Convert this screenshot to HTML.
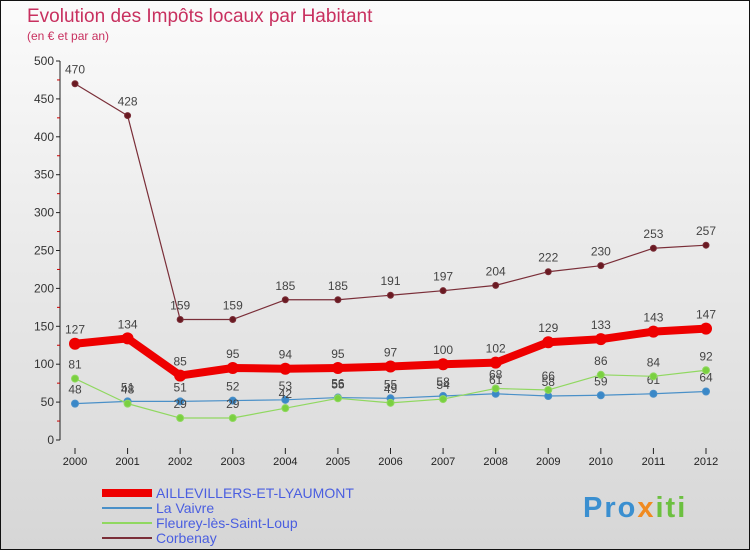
<!DOCTYPE html>
<html><head><meta charset="utf-8"><style>
body{margin:0;}
#wrap{width:750px;height:550px;position:relative;overflow:hidden;font-family:"Liberation Sans","DejaVu Sans",sans-serif;}
</style></head><body>
<div id="wrap">
<svg id="svg" width="750" height="550" xmlns="http://www.w3.org/2000/svg">
<defs><linearGradient id="bg" x1="0" y1="0" x2="0" y2="1"><stop offset="0" stop-color="#fbfbfb"/><stop offset="1" stop-color="#d6d6d6"/></linearGradient></defs>
<rect x="0.5" y="0.5" width="749" height="549" fill="url(#bg)" stroke="#111"/>
<text x="27" y="22" font-size="19" fill="#c8305f">Evolution des Impôts locaux par Habitant</text>
<text x="27" y="40" font-size="12" fill="#c8305f">(en € et par an)</text>
<g id="axes"></g><g id="series"></g>
<g>
<line x1="102" y1="493" x2="152" y2="493" stroke="#ee0000" stroke-width="8"/>
<text x="156" y="498" font-size="14" fill="#4a5ee0">AILLEVILLERS-ET-LYAUMONT</text>
<line x1="102" y1="508" x2="152" y2="508" stroke="#4a90c8" stroke-width="2"/>
<text x="156" y="513" font-size="14" fill="#4a5ee0">La Vaivre</text>
<line x1="102" y1="523" x2="152" y2="523" stroke="#90d860" stroke-width="2"/>
<text x="156" y="528" font-size="14" fill="#4a5ee0">Fleurey-lès-Saint-Loup</text>
<line x1="102" y1="538" x2="152" y2="538" stroke="#7a2e38" stroke-width="2"/>
<text x="156" y="543" font-size="14" fill="#4a5ee0">Corbenay</text>
</g>
<text x="583" y="517" font-size="29" font-weight="bold" letter-spacing="2" fill="#3a8fd0">Pro<tspan fill="#f08a20">x</tspan><tspan fill="#6cc040">iti</tspan></text>
</svg></div>
<script>
const years=[2000,2001,2002,2003,2004,2005,2006,2007,2008,2009,2010,2011,2012];
const yTicks=[0,50,100,150,200,250,300,350,400,450,500];
const vaivre=[48,51,51,52,53,56,55,58,61,58,59,61,64];
const fleurey=[81,48,29,29,42,55,49,54,68,66,86,84,92];
const aillevillers=[127,134,85,95,94,95,97,100,102,129,133,143,147];
const corbenay=[470,428,159,159,185,185,191,197,204,222,230,253,257];
const NS="http://www.w3.org/2000/svg";
const X=i=>75+i*(706-75)/(years.length-1);
const Y=v=>440-v*(440-61)/500;
function mk(t,a,p){const e=document.createElementNS(NS,t);for(const k in a)e.setAttribute(k,a[k]);p.appendChild(e);return e;}
const ax=document.getElementById('axes');
const yl=mk('line',{x1:60,y1:Y(0),x2:60,y2:Y(500),stroke:'#222'},ax);


yTicks.forEach(v=>{
 mk('line',{x1:56,y1:Y(v),x2:60,y2:Y(v),stroke:'#222'},ax);
 if(v<500)mk('line',{x1:57,y1:Y(v+25),x2:60,y2:Y(v+25),stroke:'#c00'},ax);
 const t=mk('text',{x:54,y:Y(v)+4,'font-size':12,'text-anchor':'end',fill:'#333'},ax);t.textContent=v;
 
 
});
years.forEach((yr,i)=>{
 mk('line',{x1:X(i),y1:448,x2:X(i),y2:454,stroke:'#222'},ax);
 const t=mk('text',{x:X(i),y:465,'font-size':11,'text-anchor':'middle',fill:'#222'},ax);t.textContent=yr;
 
 
});
const sg=document.getElementById('series');
function series(data,color,w,r,dot,name){
 const g=mk('g',{},sg);
 
 
 mk('polyline',{points:data.map((v,i)=>X(i)+','+Y(v)).join(' '),fill:'none',stroke:color,'stroke-width':w,'stroke-linejoin':'round'},g);
 data.forEach((v,i)=>{
  const c=mk('circle',{cx:X(i),cy:Y(v),r:r,fill:dot,stroke:color,'stroke-width':w>3?0:1},g);
  
  
  const t=mk('text',{x:X(i),y:Y(v)-10,'font-size':12,'text-anchor':'middle',fill:'#444'},g);t.textContent=v;
 });
}
series(corbenay,'#7a2e38',1.2,3,'#6a1a22','series-corbenay');
series(vaivre,'#4a90c8',1.2,3.5,'#3a88c8','series-la-vaivre');
series(fleurey,'#90d860',1.2,3.5,'#7ad040','series-fleurey');
series(aillevillers,'#ee0000',8,6,'#ee0000','series-aillevillers');
</script>
</body></html>
